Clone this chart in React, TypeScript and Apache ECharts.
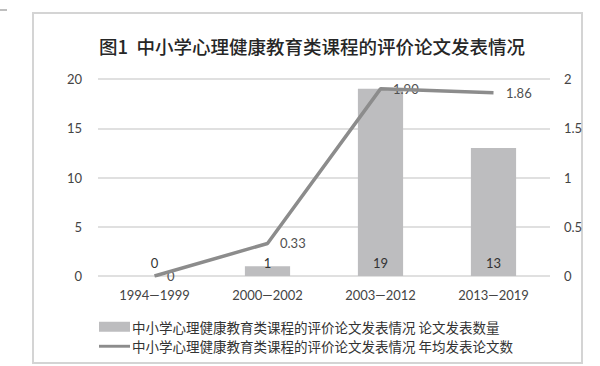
import React, { useEffect, useRef } from "react";
import * as echarts from "echarts";

const categories = ["1994—1999", "2000—2002", "2003—2012", "2013—2019"];
const paperCounts = [0, 1, 19, 13];
const annualAverages = [0, 0.33, 1.9, 1.86];
const annualLabels = ["0", "0.33", "1.90", "1.86"];
const barName = "中小学心理健康教育类课程的评价论文发表情况 论文发表数量";
const lineName = "中小学心理健康教育类课程的评价论文发表情况 年均发表论文数";
const titleText = "图1  中小学心理健康教育类课程的评价论文发表情况";

const latin = "Lato, 'Noto Sans CJK SC', sans-serif";
const cjk = "'Noto Sans CJK SC', sans-serif";
const lineColor = "#8c8c8c";

export default function App() {
  const ref = useRef<HTMLDivElement>(null);
  useEffect(() => {
    if (!ref.current) return;
    const chart = echarts.init(ref.current, null, { renderer: "svg" });
    chart.setOption({
      animation: false,
      backgroundColor: "#ffffff",
      color: ["#bdbdbf", lineColor, "#555555"],
      title: {
        text: titleText,
        left: 307,
        textAlign: "center",
        top: 32,
        textStyle: { fontFamily: cjk, fontSize: 18.5, fontWeight: 500, color: "#262626" },
      },
      graphic: [
        {
          type: "rect",
          shape: { x: 33, y: 13, width: 549, height: 350 },
          style: { fill: "none", stroke: "#d4d4d4", lineWidth: 2 },
          silent: true,
        },
        {
          type: "line",
          shape: { x1: 0, y1: 10, x2: 7, y2: 10 },
          style: { stroke: "#aaaaaa", lineWidth: 1.5 },
          silent: true,
        },
      ],
      grid: { left: 98, right: 50, top: 79, bottom: 90 },
      legend: {
        orient: "vertical",
        left: 94,
        top: 315,
        itemGap: 6,
        itemWidth: 31,
        itemHeight: 10,
        textStyle: { fontFamily: cjk, fontSize: 13.5, color: "#333", padding: [0, 0, 0, -3] },
        data: [
          { name: barName, icon: "rect" },
          {
            name: lineName,
            icon: "path://M0,0 L32,0 L32,3 L0,3 Z",
            itemStyle: { color: lineColor, opacity: 1 },
          },
        ],
      },
      xAxis: {
        type: "category",
        data: categories,
        axisLine: { show: false },
        axisTick: { show: false },
        axisLabel: { fontFamily: latin, fontSize: 13, color: "#444", margin: 12 },
      },
      yAxis: [
        {
          type: "value",
          min: 0,
          max: 20,
          interval: 5,
          axisLine: { show: false },
          axisTick: { show: false },
          axisLabel: { fontFamily: latin, fontSize: 13, color: "#444", margin: 16 },
          splitLine: { lineStyle: { color: "#d6d6d6", width: 1.5 } },
        },
        {
          type: "value",
          min: 0,
          max: 2,
          interval: 0.5,
          axisLine: { show: false },
          axisTick: { show: false },
          axisLabel: { fontFamily: latin, fontSize: 13, color: "#444", margin: 14 },
          splitLine: { show: false },
        },
      ],
      series: [
        {
          name: barName,
          type: "bar",
          data: paperCounts,
          barWidth: "40%",
          itemStyle: { color: "#bdbdbf" },
          label: {
            show: true,
            position: "insideBottom",
            distance: 7,
            fontFamily: latin,
            fontSize: 13,
            color: "#333",
          },
        },
        {
          name: lineName,
          type: "line",
          yAxisIndex: 1,
          data: annualAverages,
          symbol: "none",
          lineStyle: { color: lineColor, width: 3.5 },
          itemStyle: { color: lineColor },
        },
        {
          name: "labels",
          type: "scatter",
          yAxisIndex: 1,
          data: annualAverages,
          symbolSize: 1,
          itemStyle: { color: "#555555", opacity: 0 },
          silent: true,
          label: {
            show: true,
            position: "right",
            distance: 12,
            fontFamily: latin,
            fontSize: 13,
            color: "#505050",
            opacity: 1,
            formatter: (p: any) => annualLabels[p.dataIndex],
          },
        },
      ],
    });
    return () => chart.dispose();
  }, []);
  return <div ref={ref} style={{ width: 600, height: 366, position: "fixed", left: 0, top: 0 }} />;
}
